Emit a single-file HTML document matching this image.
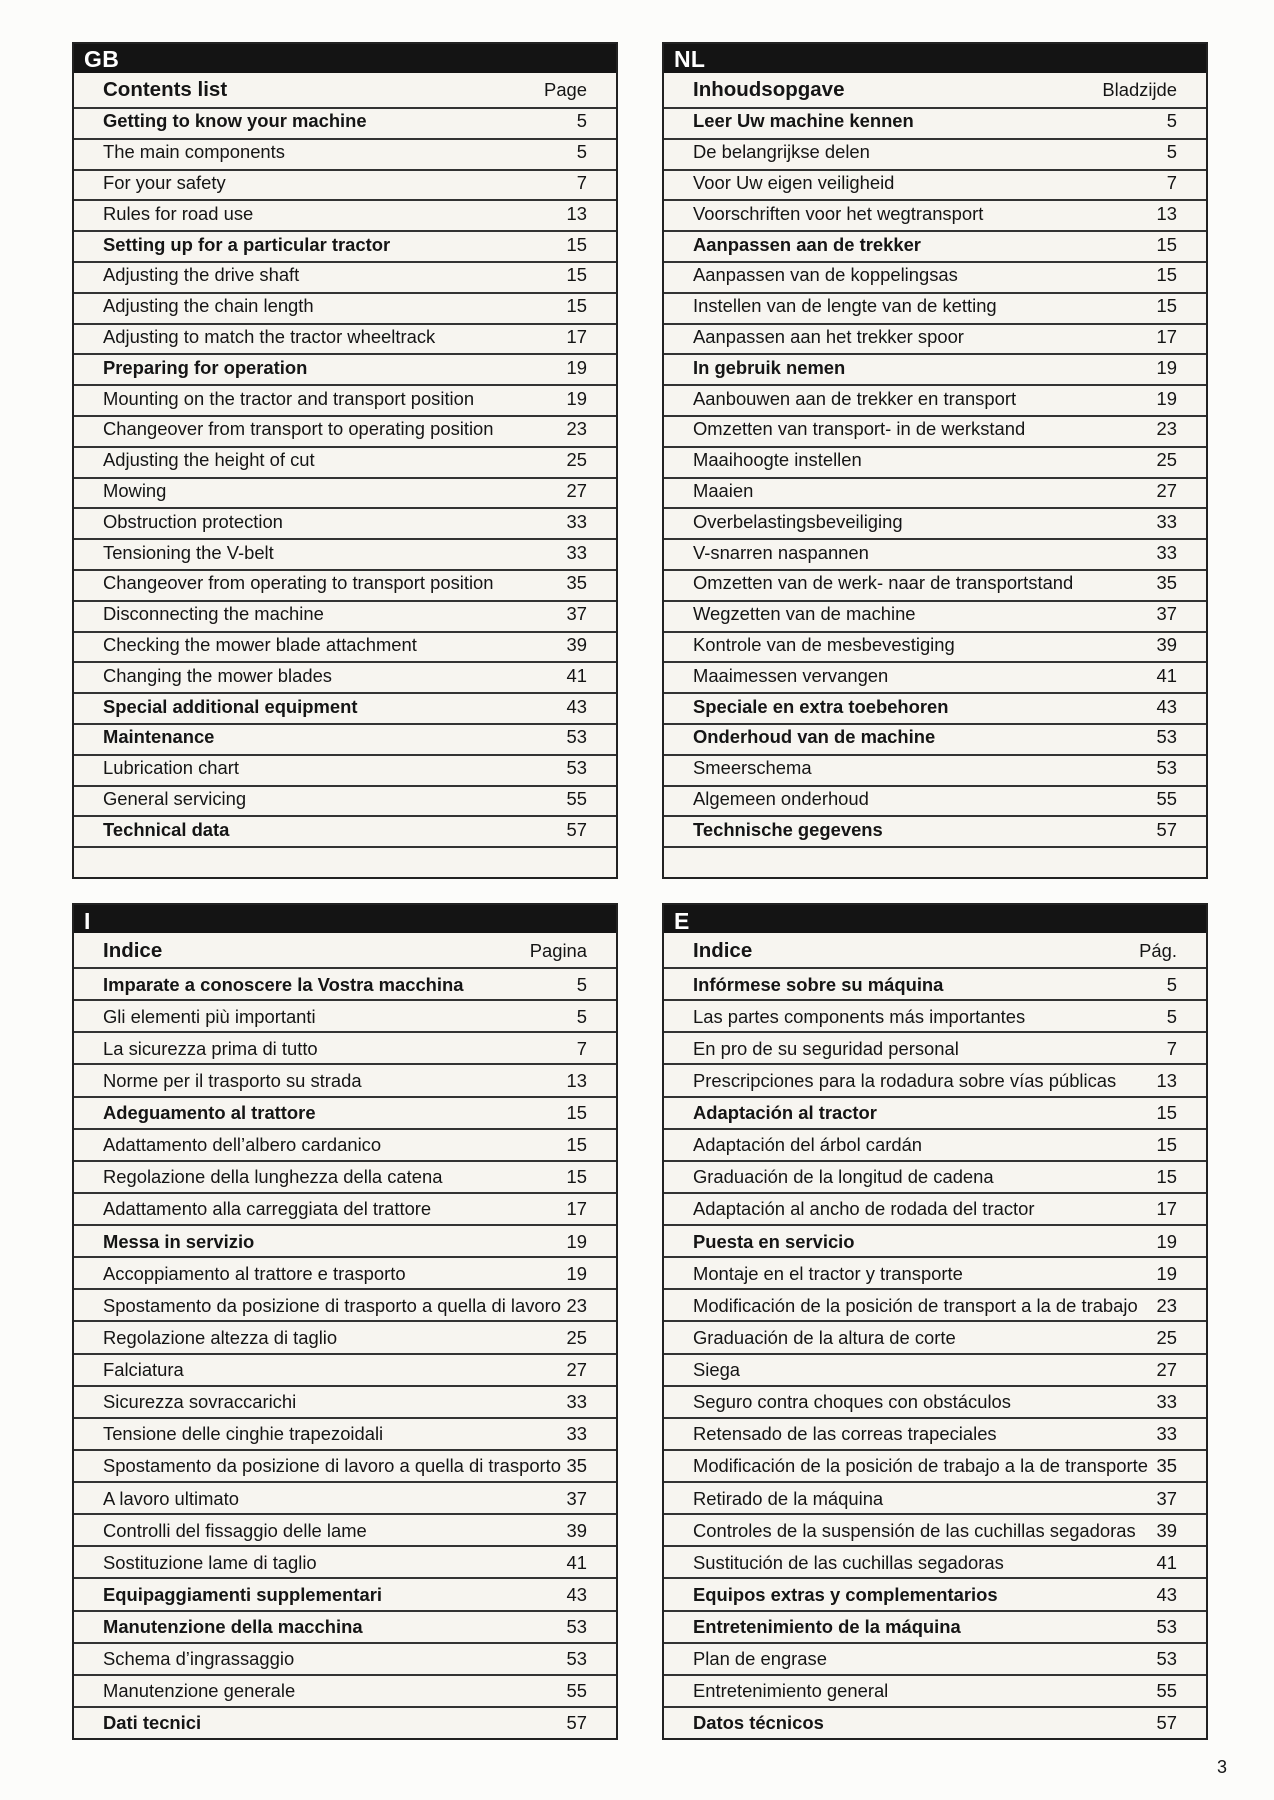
<!DOCTYPE html>
<html>
<head>
<meta charset="utf-8">
<style>
  html,body{margin:0;padding:0;}
  body{width:1274px;height:1800px;background:#fcfcfa;position:relative;overflow:hidden;
       font-family:"Liberation Sans",Arial,sans-serif;color:#151515;}
  .box{position:absolute;width:546px;height:837px;border:2px solid #222;box-sizing:border-box;
       background:#f7f5f0;display:flex;flex-direction:column;}
  .hd{background:#141414;color:#fff;font-weight:bold;font-size:23px;padding-left:10px;flex:none;
      letter-spacing:0.3px;}
  .hd span{position:relative;}
  .tr{flex:none;height:34px;line-height:34px;position:relative;white-space:nowrap;}
  .tr .t{position:absolute;left:29px;font-weight:bold;font-size:20.5px;}
  .tr .p{position:absolute;right:29px;font-size:18.4px;}
  .r{flex:none;box-sizing:border-box;border-top:2px solid #333;position:relative;white-space:nowrap;font-size:18.4px;}
  .r .t{position:absolute;left:29px;}
  .r .n{position:absolute;right:29px;}
  .r b{font-weight:bold;}
  .top .hd{height:29px;line-height:29px;}
  .top .hd span{top:1px;}
  .top .r{height:30.8px;line-height:28.8px;}
  .top .r span{top:-1.6px;}
  .bot .hd{height:28px;line-height:28px;}
  .bot .hd span{top:1.5px;}
  .bot .tr span{top:1px;}
  .bot .r{height:32.125px;line-height:30.125px;}
  .bot .r span{top:0.5px;}
  .pn{position:absolute;left:1217px;top:1758px;font-size:18px;line-height:18px;}
</style>
</head>
<body>

<!-- GB -->
<div class="box top" style="left:72px;top:42px;">
  <div class="hd"><span>GB</span></div>
  <div class="tr"><span class="t">Contents list</span><span class="p">Page</span></div>
  <div class="r"><span class="t"><b>Getting to know your machine</b></span><span class="n">5</span></div>
  <div class="r"><span class="t">The main components</span><span class="n">5</span></div>
  <div class="r"><span class="t">For your safety</span><span class="n">7</span></div>
  <div class="r"><span class="t">Rules for road use</span><span class="n">13</span></div>
  <div class="r"><span class="t"><b>Setting up for a particular tractor</b></span><span class="n">15</span></div>
  <div class="r"><span class="t">Adjusting the drive shaft</span><span class="n">15</span></div>
  <div class="r"><span class="t">Adjusting the chain length</span><span class="n">15</span></div>
  <div class="r"><span class="t">Adjusting to match the tractor wheeltrack</span><span class="n">17</span></div>
  <div class="r"><span class="t"><b>Preparing for operation</b></span><span class="n">19</span></div>
  <div class="r"><span class="t">Mounting on the tractor and transport position</span><span class="n">19</span></div>
  <div class="r"><span class="t">Changeover from transport to operating position</span><span class="n">23</span></div>
  <div class="r"><span class="t">Adjusting the height of cut</span><span class="n">25</span></div>
  <div class="r"><span class="t">Mowing</span><span class="n">27</span></div>
  <div class="r"><span class="t">Obstruction protection</span><span class="n">33</span></div>
  <div class="r"><span class="t">Tensioning the V-belt</span><span class="n">33</span></div>
  <div class="r"><span class="t">Changeover from operating to transport position</span><span class="n">35</span></div>
  <div class="r"><span class="t">Disconnecting the machine</span><span class="n">37</span></div>
  <div class="r"><span class="t">Checking the mower blade attachment</span><span class="n">39</span></div>
  <div class="r"><span class="t">Changing the mower blades</span><span class="n">41</span></div>
  <div class="r"><span class="t"><b>Special additional equipment</b></span><span class="n">43</span></div>
  <div class="r"><span class="t"><b>Maintenance</b></span><span class="n">53</span></div>
  <div class="r"><span class="t">Lubrication chart</span><span class="n">53</span></div>
  <div class="r"><span class="t">General servicing</span><span class="n">55</span></div>
  <div class="r"><span class="t"><b>Technical data</b></span><span class="n">57</span></div>
  <div class="r"></div>
</div>

<!-- NL -->
<div class="box top" style="left:662px;top:42px;">
  <div class="hd"><span>NL</span></div>
  <div class="tr"><span class="t">Inhoudsopgave</span><span class="p">Bladzijde</span></div>
  <div class="r"><span class="t"><b>Leer Uw machine kennen</b></span><span class="n">5</span></div>
  <div class="r"><span class="t">De belangrijkse delen</span><span class="n">5</span></div>
  <div class="r"><span class="t">Voor Uw eigen veiligheid</span><span class="n">7</span></div>
  <div class="r"><span class="t">Voorschriften voor het wegtransport</span><span class="n">13</span></div>
  <div class="r"><span class="t"><b>Aanpassen aan de trekker</b></span><span class="n">15</span></div>
  <div class="r"><span class="t">Aanpassen van de koppelingsas</span><span class="n">15</span></div>
  <div class="r"><span class="t">Instellen van de lengte van de ketting</span><span class="n">15</span></div>
  <div class="r"><span class="t">Aanpassen aan het trekker spoor</span><span class="n">17</span></div>
  <div class="r"><span class="t"><b>In gebruik nemen</b></span><span class="n">19</span></div>
  <div class="r"><span class="t">Aanbouwen aan de trekker en transport</span><span class="n">19</span></div>
  <div class="r"><span class="t">Omzetten van transport- in de werkstand</span><span class="n">23</span></div>
  <div class="r"><span class="t">Maaihoogte instellen</span><span class="n">25</span></div>
  <div class="r"><span class="t">Maaien</span><span class="n">27</span></div>
  <div class="r"><span class="t">Overbelastingsbeveiliging</span><span class="n">33</span></div>
  <div class="r"><span class="t">V-snarren naspannen</span><span class="n">33</span></div>
  <div class="r"><span class="t">Omzetten van de werk- naar de transportstand</span><span class="n">35</span></div>
  <div class="r"><span class="t">Wegzetten van de machine</span><span class="n">37</span></div>
  <div class="r"><span class="t">Kontrole van de mesbevestiging</span><span class="n">39</span></div>
  <div class="r"><span class="t">Maaimessen vervangen</span><span class="n">41</span></div>
  <div class="r"><span class="t"><b>Speciale en extra toebehoren</b></span><span class="n">43</span></div>
  <div class="r"><span class="t"><b>Onderhoud van de machine</b></span><span class="n">53</span></div>
  <div class="r"><span class="t">Smeerschema</span><span class="n">53</span></div>
  <div class="r"><span class="t">Algemeen onderhoud</span><span class="n">55</span></div>
  <div class="r"><span class="t"><b>Technische gegevens</b></span><span class="n">57</span></div>
  <div class="r"></div>
</div>

<!-- I -->
<div class="box bot" style="left:72px;top:903px;">
  <div class="hd"><span>I</span></div>
  <div class="tr"><span class="t">Indice</span><span class="p">Pagina</span></div>
  <div class="r"><span class="t"><b>Imparate a conoscere la Vostra macchina</b></span><span class="n">5</span></div>
  <div class="r"><span class="t">Gli elementi più importanti</span><span class="n">5</span></div>
  <div class="r"><span class="t">La sicurezza prima di tutto</span><span class="n">7</span></div>
  <div class="r"><span class="t">Norme per il trasporto su strada</span><span class="n">13</span></div>
  <div class="r"><span class="t"><b>Adeguamento al trattore</b></span><span class="n">15</span></div>
  <div class="r"><span class="t">Adattamento dell’albero cardanico</span><span class="n">15</span></div>
  <div class="r"><span class="t">Regolazione della lunghezza della catena</span><span class="n">15</span></div>
  <div class="r"><span class="t">Adattamento alla carreggiata del trattore</span><span class="n">17</span></div>
  <div class="r"><span class="t"><b>Messa in servizio</b></span><span class="n">19</span></div>
  <div class="r"><span class="t">Accoppiamento al trattore e trasporto</span><span class="n">19</span></div>
  <div class="r"><span class="t">Spostamento da posizione di trasporto a quella di lavoro</span><span class="n">23</span></div>
  <div class="r"><span class="t">Regolazione altezza di taglio</span><span class="n">25</span></div>
  <div class="r"><span class="t">Falciatura</span><span class="n">27</span></div>
  <div class="r"><span class="t">Sicurezza sovraccarichi</span><span class="n">33</span></div>
  <div class="r"><span class="t">Tensione delle cinghie trapezoidali</span><span class="n">33</span></div>
  <div class="r"><span class="t">Spostamento da posizione di lavoro a quella di trasporto</span><span class="n">35</span></div>
  <div class="r"><span class="t">A lavoro ultimato</span><span class="n">37</span></div>
  <div class="r"><span class="t">Controlli del fissaggio delle lame</span><span class="n">39</span></div>
  <div class="r"><span class="t">Sostituzione lame di taglio</span><span class="n">41</span></div>
  <div class="r"><span class="t"><b>Equipaggiamenti supplementari</b></span><span class="n">43</span></div>
  <div class="r"><span class="t"><b>Manutenzione della macchina</b></span><span class="n">53</span></div>
  <div class="r"><span class="t">Schema d’ingrassaggio</span><span class="n">53</span></div>
  <div class="r"><span class="t">Manutenzione generale</span><span class="n">55</span></div>
  <div class="r"><span class="t"><b>Dati tecnici</b></span><span class="n">57</span></div>
</div>

<!-- E -->
<div class="box bot" style="left:662px;top:903px;">
  <div class="hd"><span>E</span></div>
  <div class="tr"><span class="t">Indice</span><span class="p">Pág.</span></div>
  <div class="r"><span class="t"><b>Infórmese sobre su máquina</b></span><span class="n">5</span></div>
  <div class="r"><span class="t">Las partes components más importantes</span><span class="n">5</span></div>
  <div class="r"><span class="t">En pro de su seguridad personal</span><span class="n">7</span></div>
  <div class="r"><span class="t">Prescripciones para la rodadura sobre vías públicas</span><span class="n">13</span></div>
  <div class="r"><span class="t"><b>Adaptación al tractor</b></span><span class="n">15</span></div>
  <div class="r"><span class="t">Adaptación del árbol cardán</span><span class="n">15</span></div>
  <div class="r"><span class="t">Graduación de la longitud de cadena</span><span class="n">15</span></div>
  <div class="r"><span class="t">Adaptación al ancho de rodada del tractor</span><span class="n">17</span></div>
  <div class="r"><span class="t"><b>Puesta en servicio</b></span><span class="n">19</span></div>
  <div class="r"><span class="t">Montaje en el tractor y transporte</span><span class="n">19</span></div>
  <div class="r"><span class="t">Modificación de la posición de transport a la de trabajo</span><span class="n">23</span></div>
  <div class="r"><span class="t">Graduación de la altura de corte</span><span class="n">25</span></div>
  <div class="r"><span class="t">Siega</span><span class="n">27</span></div>
  <div class="r"><span class="t">Seguro contra choques con obstáculos</span><span class="n">33</span></div>
  <div class="r"><span class="t">Retensado de las correas trapeciales</span><span class="n">33</span></div>
  <div class="r"><span class="t">Modificación de la posición de trabajo a la de transporte</span><span class="n">35</span></div>
  <div class="r"><span class="t">Retirado de la máquina</span><span class="n">37</span></div>
  <div class="r"><span class="t">Controles de la suspensión de las cuchillas segadoras</span><span class="n">39</span></div>
  <div class="r"><span class="t">Sustitución de las cuchillas segadoras</span><span class="n">41</span></div>
  <div class="r"><span class="t"><b>Equipos extras y complementarios</b></span><span class="n">43</span></div>
  <div class="r"><span class="t"><b>Entretenimiento de la máquina</b></span><span class="n">53</span></div>
  <div class="r"><span class="t">Plan de engrase</span><span class="n">53</span></div>
  <div class="r"><span class="t">Entretenimiento general</span><span class="n">55</span></div>
  <div class="r"><span class="t"><b>Datos técnicos</b></span><span class="n">57</span></div>
</div>

<div class="pn">3</div>

</body>
</html>
